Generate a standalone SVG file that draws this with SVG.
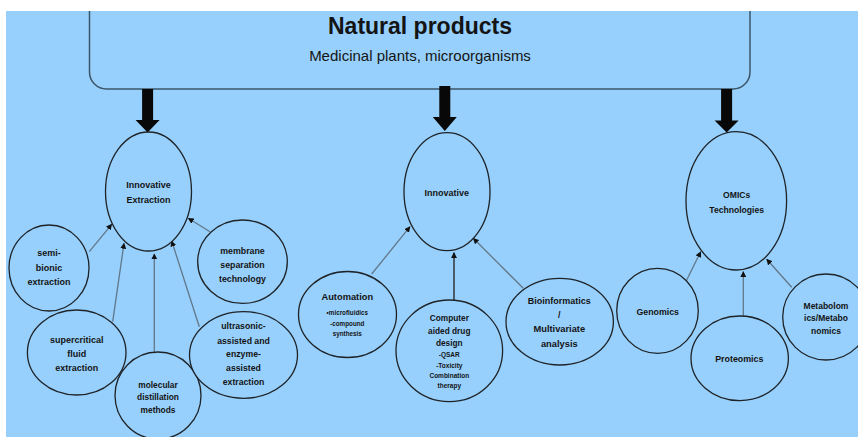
<svg xmlns="http://www.w3.org/2000/svg" width="858" height="437" viewBox="0 0 858 437">
  <style>
    .node ellipse { fill: #97d0fc; stroke: #1e2328; stroke-width: 1.3; }
    .t { font-family: "Liberation Sans", Arial, sans-serif; font-weight: bold; fill: #141414; text-anchor: middle; }
    .sub { font-family: "Liberation Sans", Arial, sans-serif; font-weight: normal; fill: #141414; text-anchor: middle; }
    .conn line { stroke: #61778a; stroke-width: 1.3; }
    .big { fill: #080808; }
  </style>
  <defs>
    <marker id="ah" viewBox="0 0 10 10" refX="9" refY="5" markerWidth="6" markerHeight="6" markerUnits="userSpaceOnUse" orient="auto">
      <path d="M0,0 L10,5 L0,10 Z" fill="#111"/>
    </marker>
  </defs>

  <rect x="0" y="0" width="858" height="437" fill="#ffffff"/>
  <rect x="6" y="11" width="852" height="426" fill="#97d0fc"/>

  <g id="natural-products">
    <rect x="89.5" y="-30" width="660.5" height="119" rx="17" ry="17" fill="#97d0fc" stroke="#3d5568" stroke-width="1.5"/>
    <rect x="0" y="0" width="858" height="11" fill="#ffffff"/>
    <text class="t" x="420" y="34" font-size="23">Natural  products</text>
    <text class="sub" x="420" y="61" font-size="15">Medicinal plants, microorganisms</text>
  </g>

  <g id="big-arrows">
    <polygon class="big" points="142.1,89 153.1,89 153.1,120 159.6,120 147.6,132.5 135.6,120 142.1,120"/>
    <polygon class="big" points="439.3,86 450.3,86 450.3,117 456.8,117 444.8,131 432.8,117 439.3,117"/>
    <polygon class="big" points="721.1,89 732.1,89 732.1,120.5 738.6,120.5 726.6,132.5 714.6,120.5 721.1,120.5"/>
  </g>

  <g id="connectors" class="conn">
    <line x1="89.3" y1="251.7" x2="111.7" y2="224.3" marker-end="url(#ah)"/>
    <line x1="112.7" y1="321.7" x2="124" y2="243.3" marker-end="url(#ah)"/>
    <line x1="154.3" y1="351.7" x2="154.3" y2="254" marker-end="url(#ah)"/>
    <line x1="199.3" y1="326.7" x2="171.7" y2="241" marker-end="url(#ah)"/>
    <line x1="210" y1="231.7" x2="188.3" y2="218.3" marker-end="url(#ah)"/>
    <line x1="371.7" y1="274" x2="410" y2="226.7" marker-end="url(#ah)"/>
    <line x1="454" y1="300" x2="454" y2="252.7" marker-end="url(#ah)" style="stroke:#4a5b6a;stroke-width:2"/>
    <line x1="523.3" y1="288.3" x2="473.3" y2="238.3" marker-end="url(#ah)"/>
    <line x1="686.7" y1="280" x2="700.7" y2="251.7" marker-end="url(#ah)"/>
    <line x1="743.3" y1="316" x2="743.3" y2="271.7" marker-end="url(#ah)"/>
    <line x1="791.7" y1="287.3" x2="766.7" y2="259.3" marker-end="url(#ah)"/>
  </g>

  <g id="innovative-extraction" class="node">
    <ellipse cx="148.5" cy="191.5" rx="43" ry="59.5"/>
    <text class="t" font-size="9" x="148.5" y="188">Innovative</text>
    <text class="t" font-size="9" x="148.5" y="202.5">Extraction</text>
  </g>
  <g id="semi-bionic" class="node">
    <ellipse cx="49" cy="268" rx="40" ry="43"/>
    <text class="t" font-size="9" x="49" y="256">semi-</text>
    <text class="t" font-size="9" x="49" y="270.5">bionic</text>
    <text class="t" font-size="9" x="49" y="285">extraction</text>
  </g>
  <g id="supercritical" class="node">
    <ellipse cx="76.7" cy="352.5" rx="49.3" ry="42.5"/>
    <text class="t" font-size="9" x="76.7" y="342.5">supercritical</text>
    <text class="t" font-size="9" x="76.7" y="356.5">fluid</text>
    <text class="t" font-size="9" x="76.7" y="370.5">extraction</text>
  </g>
  <g id="molecular" class="node">
    <ellipse cx="158" cy="395.5" rx="43" ry="43.5"/>
    <text class="t" font-size="8.4" x="158" y="388">molecular</text>
    <text class="t" font-size="8.4" x="158" y="400">distillation</text>
    <text class="t" font-size="8.4" x="158" y="413">methods</text>
  </g>
  <g id="membrane" class="node">
    <ellipse cx="242.5" cy="261.7" rx="44.8" ry="41.7"/>
    <text class="t" font-size="8.8" x="242.5" y="254">membrane</text>
    <text class="t" font-size="8.8" x="242.5" y="268">separation</text>
    <text class="t" font-size="8.8" x="242.5" y="282">technology</text>
  </g>
  <g id="ultrasonic" class="node">
    <ellipse cx="243.5" cy="355" rx="54" ry="43.3"/>
    <text class="t" font-size="8.7" x="243.5" y="329">ultrasonic-</text>
    <text class="t" font-size="8.7" x="243.5" y="343.7">assisted and</text>
    <text class="t" font-size="8.7" x="243.5" y="357.3">enzyme-</text>
    <text class="t" font-size="8.7" x="243.5" y="371">assisted</text>
    <text class="t" font-size="8.7" x="243.5" y="384.7">extraction</text>
  </g>

  <g id="innovative" class="node">
    <ellipse cx="447" cy="191.7" rx="43" ry="59"/>
    <text class="t" font-size="9" x="446.7" y="195.5">Innovative</text>
  </g>
  <g id="automation" class="node">
    <ellipse cx="347.5" cy="314.5" rx="49" ry="43"/>
    <text class="t" font-size="9.3" x="347.3" y="300">Automation</text>
    <text class="t" font-size="6.3" x="347.3" y="315">•microfluidics</text>
    <text class="t" font-size="6.3" x="347.3" y="325.5">-compound</text>
    <text class="t" font-size="6.3" x="347.3" y="336">synthesis</text>
  </g>
  <g id="cadd" class="node">
    <ellipse cx="449.3" cy="350.8" rx="53.3" ry="50.8"/>
    <text class="t" font-size="8.3" x="449.3" y="321.3">Computer</text>
    <text class="t" font-size="8.3" x="449.3" y="334">aided drug</text>
    <text class="t" font-size="8.3" x="449.3" y="346.3">design</text>
    <text class="t" font-size="6.5" x="449.3" y="356.5">-QSAR</text>
    <text class="t" font-size="6.5" x="449.3" y="368">-Toxicity</text>
    <text class="t" font-size="6.5" x="449.3" y="378.3">Combination</text>
    <text class="t" font-size="6.5" x="449.3" y="388.3">therapy</text>
  </g>
  <g id="bioinformatics" class="node">
    <ellipse cx="559.7" cy="321.7" rx="53.7" ry="43.3"/>
    <text class="t" font-size="9" x="559.3" y="304">Bioinformatics</text>
    <text class="t" font-size="9" x="559.3" y="317.5">/</text>
    <text class="t" font-size="9.3" x="559.3" y="332.3">Multivariate</text>
    <text class="t" font-size="9.3" x="559.3" y="346.6">analysis</text>
  </g>

  <g id="omics" class="node">
    <ellipse cx="736.3" cy="200.8" rx="50.3" ry="69.2"/>
    <text class="t" font-size="8.6" x="736.7" y="197.5">OMICs</text>
    <text class="t" font-size="8.6" x="736.7" y="212.5">Technologies</text>
  </g>
  <g id="genomics" class="node">
    <ellipse cx="657.5" cy="310.8" rx="40.8" ry="42.5"/>
    <text class="t" font-size="8.8" x="657.7" y="314.8">Genomics</text>
  </g>
  <g id="proteomics" class="node">
    <ellipse cx="739.7" cy="358.3" rx="48.7" ry="42.3"/>
    <text class="t" font-size="8.9" x="739.3" y="362.2">Proteomics</text>
  </g>
  <g id="metabolomics" class="node">
    <ellipse cx="826" cy="317" rx="43.3" ry="43"/>
    <text class="t" font-size="8.5" x="826" y="308.8">Metabolom</text>
    <text class="t" font-size="8.5" x="826" y="321.4">ics/Metabo</text>
    <text class="t" font-size="8.5" x="826" y="334.1">nomics</text>
  </g>
</svg>
